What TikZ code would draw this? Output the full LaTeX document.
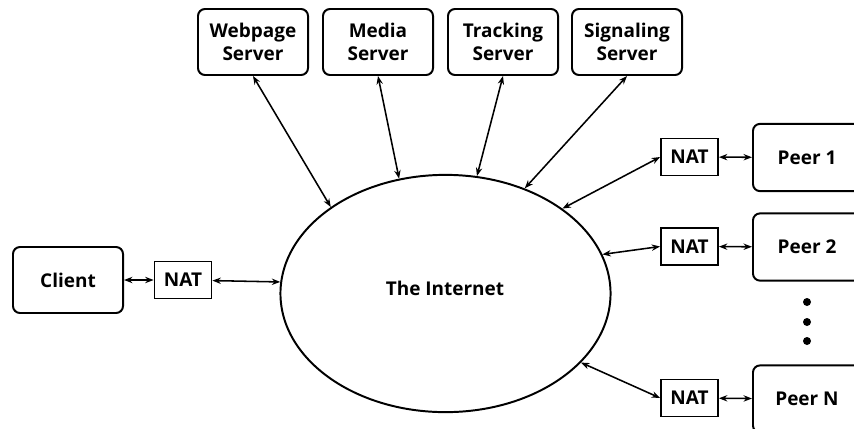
\documentclass[tikz,border=0pt]{standalone}
\usepackage{fontspec}
\setmainfont{Open Sans}
\usetikzlibrary{arrows.meta,shapes.geometric}
\tikzset{
  srvbox/.style={draw,line width=1.4pt,rounded corners=5pt,minimum width=2.75cm,minimum height=1.65cm,align=center,font=\fontsize{13.5}{16}\selectfont\bfseries},
  natbox/.style={draw,line width=1.1pt,minimum width=1.43cm,minimum height=0.93cm,font=\fontsize{13.5}{16}\selectfont\bfseries},
  link/.style={line width=1.1pt,{Stealth[length=6pt,width=4.5pt]}-{Stealth[length=6pt,width=4.5pt]}}
}
\begin{document}
\begin{tikzpicture}[x=.025cm,y=-.025cm]
\useasboundingbox (0,0) rectangle (854,428);
\node[draw,ellipse,line width=1.4pt,minimum width=8.25cm,minimum height=5.93cm,inner sep=0pt] (net) at (445.5,293.5) {};
\node[font=\fontsize{13.5}{16}\selectfont\bfseries] (nettext) at (445,288) {The Internet};
\node[srvbox] (web) at (253,42) {Webpage\\Server};
\node[srvbox] (media) at (378,42) {Media\\Server};
\node[srvbox] (track) at (503,42) {Tracking\\Server};
\node[srvbox] (sig) at (627,42) {Signaling\\Server};
\node[srvbox] (client) at (68,280) {Client};
\node[natbox] (cnat) at (183,280) {NAT};
\node[natbox] (nat1) at (689.5,157) {NAT};
\node[natbox] (nat2) at (689.5,246.5) {NAT};
\node[natbox] (natn) at (689.5,398) {NAT};
\node[srvbox,minimum width=2.7cm,minimum height=1.68cm] (peer1) at (807,157.5) {Peer 1};
\node[srvbox,minimum width=2.7cm,minimum height=1.68cm] (peer2) at (807,247) {Peer 2};
\node[srvbox,minimum width=2.7cm,minimum height=1.68cm] (peern) at (807,399) {Peer N};
\foreach \y in {302,322,341}
  \fill (807,\y) circle (0.1cm);
\draw[link] (web.south) -- (net.143.4);
\draw[link] (media.south) -- (net.112.9);
\draw[link] (track.south) -- (net.75.3);
\draw[link] (sig.south) -- (net.53.7);
\draw[link] (client) -- (cnat);
\draw[link] (cnat) -- (net.176);
\draw[link] (net.36.2) -- (nat1.west);
\draw[link] (net.14.5) -- (nat2.west);
\draw[link] (net.-27.9) -- (natn.west);
\draw[link] (nat1) -- (peer1);
\draw[link] (nat2) -- (peer2);
\draw[link] (natn) -- (peern);
\end{tikzpicture}
\end{document}
